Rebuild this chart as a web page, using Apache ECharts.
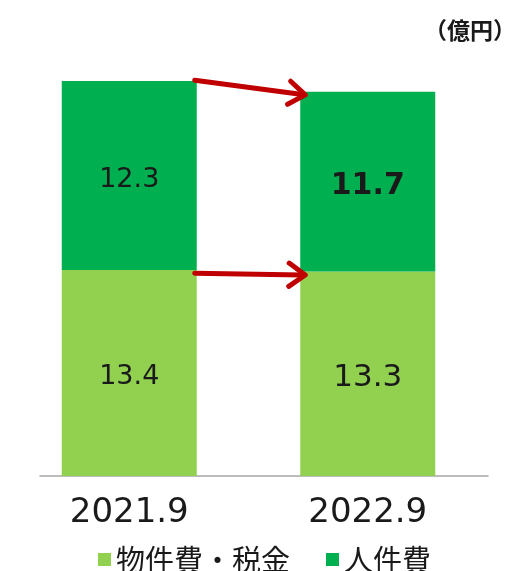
<!DOCTYPE html>
<html>
<head>
<meta charset="utf-8">
<script src="https://cdn.jsdelivr.net/npm/echarts@6/dist/echarts.min.js"></script>
<style>html,body{margin:0;padding:0;background:#fff}#c{width:506px;height:571px}</style>
</head>
<body>
<div id="c"></div>
<script>
var categories = ['2021.9', '2022.9'];
var seriesNames = ['物件費・税金', '人件費'];
var materialTax = [13.4, 13.3];
var personnel = [12.3, 11.7];
var arrowStart = [25.76, 13.2];
var arrowEnd = [24.8, 13.08];
var unitLabel = '（億円）';

var chart = echarts.init(document.getElementById('c'));
var BAR_W = 135;
var arrowData = arrowStart.map(function (s, i) { return [0, s, 1, arrowEnd[i]]; });

chart.setOption({
  animation: false,
  title: {
    text: unitLabel, right: -15, top: 14,
    textStyle: { fontFamily: 'Noto Sans CJK JP', fontSize: 23, fontWeight: 'bold', color: '#1a1a1a' }
  },
  legend: {
    left: 93, top: 540,
    itemWidth: 13, itemHeight: 13, itemGap: 36,
    icon: 'rect',
    data: seriesNames,
    textStyle: { fontFamily: 'Noto Sans CJK JP', fontSize: 29, color: '#1a1a1a' }
  },
  grid: [
    { left: 10, right: 19, top: 15, bottom: 95 },
    { left: 40, right: 18, top: 15, bottom: 95 }
  ],
  xAxis: [
    {
      type: 'category', data: categories, gridIndex: 0,
      axisTick: { show: false },
      axisLine: { show: false },
      axisLabel: { margin: 20, fontFamily: 'DejaVu Sans', fontSize: 34, color: '#1a1a1a' }
    },
    {
      type: 'value', gridIndex: 1, min: 0, max: 1,
      splitLine: { show: false }, axisTick: { show: false }, axisLabel: { show: false },
      axisLine: { show: true, lineStyle: { color: '#a6a6a6', width: 1.5 } }
    }
  ],
  yAxis: [
    { type: 'value', min: 0, max: 30, show: false, gridIndex: 0 },
    { type: 'value', min: 0, max: 1, show: false, gridIndex: 1 }
  ],
  series: [
    {
      name: seriesNames[0], type: 'bar', stack: 'total', barWidth: BAR_W,
      itemStyle: { color: '#92D050' },
      label: { show: true, position: 'inside', offset: [0, 4], fontFamily: 'DejaVu Sans', color: '#1a1a1a' },
      data: materialTax.map(function (v, i) { return { value: v, label: { fontSize: i === 0 ? 27 : 31 } }; })
    },
    {
      name: seriesNames[1], type: 'bar', stack: 'total', barWidth: BAR_W,
      itemStyle: { color: '#00B050' },
      label: { show: true, position: 'inside', offset: [0, 4], fontFamily: 'DejaVu Sans', color: '#1a1a1a' },
      data: personnel.map(function (v, i) { return { value: v, label: { fontSize: i === 0 ? 27 : 30, fontWeight: i === 0 ? 'normal' : 'bold' } }; })
    },
    {
      type: 'custom', silent: true, z: 10,
      encode: { x: [0, 2], y: [1, 3] },
      data: arrowData,
      renderItem: function (params, api) {
        var p0 = api.coord([api.value(0), api.value(1)]);
        var p1 = api.coord([api.value(2), api.value(3)]);
        var x0 = p0[0] + BAR_W / 2 - 2, y0 = p0[1];
        var x1 = p1[0] - BAR_W / 2 + 5, y1 = p1[1];
        var a = Math.atan2(y1 - y0, x1 - x0);
        var L = 20, h = 0.62;
        var s = { stroke: '#C00000', lineWidth: 5, lineCap: 'round', lineJoin: 'round', fill: null };
        return {
          type: 'group',
          children: [
            { type: 'line', shape: { x1: x0, y1: y0, x2: x1 - 3 * Math.cos(a), y2: y1 - 3 * Math.sin(a) }, style: s },
            { type: 'polyline', shape: { points: [
              [x1 - L * Math.cos(a - h), y1 - L * Math.sin(a - h)],
              [x1, y1],
              [x1 - L * Math.cos(a + h), y1 - L * Math.sin(a + h)]
            ] }, style: s }
          ]
        };
      }
    }
  ]
});
</script>
</body>
</html>
